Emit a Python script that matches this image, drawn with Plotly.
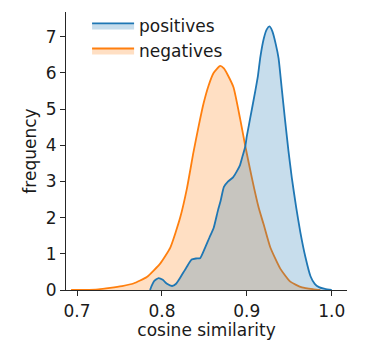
import plotly.graph_objects as go

# KDE curves
pos_x = [0.786, 0.788, 0.791, 0.796, 0.801, 0.806, 0.812, 0.817, 0.821, 0.829,
         0.835, 0.840, 0.845, 0.851, 0.856, 0.861, 0.866, 0.869, 0.873, 0.878,
         0.884, 0.888, 0.892, 0.895, 0.898, 0.900, 0.902, 0.906, 0.910, 0.913,
         0.916, 0.920, 0.9235, 0.9268, 0.930, 0.934, 0.9374, 0.941, 0.945, 0.949,
         0.953, 0.958, 0.963, 0.969, 0.975, 0.980, 0.985, 0.992, 1.0]
pos_y = [0.0, 0.12, 0.25, 0.33, 0.28, 0.17, 0.11, 0.18, 0.32, 0.63,
         0.84, 0.87, 0.88, 1.18, 1.45, 1.72, 2.2, 2.45, 2.85, 3.0,
         3.12, 3.27, 3.45, 3.7, 3.95, 4.25, 4.5, 5.0, 5.5, 5.9,
         6.45, 6.95, 7.2, 7.28, 7.15, 6.8, 6.4, 5.6, 4.7, 3.85,
         3.1, 2.3, 1.6, 0.91, 0.38, 0.17, 0.08, 0.03, 0.0]

neg_x = [0.693, 0.710, 0.725, 0.739, 0.753, 0.7664, 0.7822, 0.7979, 0.810, 0.8215,
         0.8294, 0.8371, 0.843, 0.849, 0.855, 0.861, 0.8686, 0.873, 0.878, 0.8843,
         0.8922, 0.898, 0.906, 0.914, 0.9197, 0.9276, 0.9394, 0.9512, 0.965, 0.9787,
         0.9866]
neg_y = [0.0, 0.004, 0.02, 0.06, 0.11, 0.18, 0.36, 0.73, 1.18, 2.0,
         2.8, 3.8, 4.5, 5.15, 5.65, 6.0, 6.19, 6.12, 5.92, 5.6,
         4.72, 4.0, 3.09, 2.27, 1.82, 1.18, 0.59, 0.23, 0.07, 0.02,
         0.0]

x_ticks = [0.7, 0.8, 0.9, 1.0]
x_tick_labels = ["0.7", "0.8", "0.9", "1.0"]
y_ticks = [0, 1, 2, 3, 4, 5, 6, 7]

BLUE = "#1f77b4"
ORANGE = "#ff7f0e"
FONT = "DejaVu Sans"
TXT = "#1a1a1a"

fig = go.Figure()

# negatives drawn first so the positives fill sits on top
fig.add_trace(go.Scatter(
    x=neg_x, y=neg_y, name="negatives", mode="lines",
    line=dict(color=ORANGE, width=1.8, shape="spline", smoothing=0.5),
    fill="tozeroy", fillcolor="rgba(255,127,14,0.25)",
    legendrank=2, legendgroup="neg",
))
fig.add_trace(go.Scatter(
    x=pos_x, y=pos_y, name="positives", mode="lines",
    line=dict(color=BLUE, width=1.8, shape="spline", smoothing=0.5),
    fill="tozeroy", fillcolor="rgba(31,119,180,0.25)",
    legendrank=1, legendgroup="pos",
))

axis_style = dict(
    showline=True, linecolor="#262626", linewidth=1.2,
    ticks="outside", ticklen=5, tickwidth=1.2, tickcolor="#262626",
    showgrid=False, zeroline=False,
    tickfont=dict(family=FONT, size=17, color=TXT),
)

fig.update_xaxes(
    range=[0.687, 1.018],
    tickvals=x_ticks, ticktext=x_tick_labels,
    title=dict(text="cosine similarity", font=dict(family=FONT, size=17, color=TXT), standoff=3),
    **axis_style,
)
fig.update_yaxes(
    range=[0, 7.68],
    tickvals=y_ticks,
    title=dict(text="frequency", font=dict(family=FONT, size=17, color=TXT), standoff=4),
    **axis_style,
)

fig.update_layout(
    width=374, height=345,
    margin=dict(l=66, r=27, t=8, b=55),
    plot_bgcolor="white", paper_bgcolor="white",
    font=dict(family=FONT, size=17, color=TXT),
    legend=dict(
        x=0.075, y=1.015, xanchor="left", yanchor="top",
        bgcolor="rgba(0,0,0,0)", tracegroupgap=0, itemwidth=42,
        font=dict(family=FONT, size=17, color=TXT),
    ),
)

# drop the browser's default body margin so the figure sits at 0,0
fig.write_html(
    "out.html",
    config={"displayModeBar": False},
    post_script="document.body.style.margin='0';",
)
